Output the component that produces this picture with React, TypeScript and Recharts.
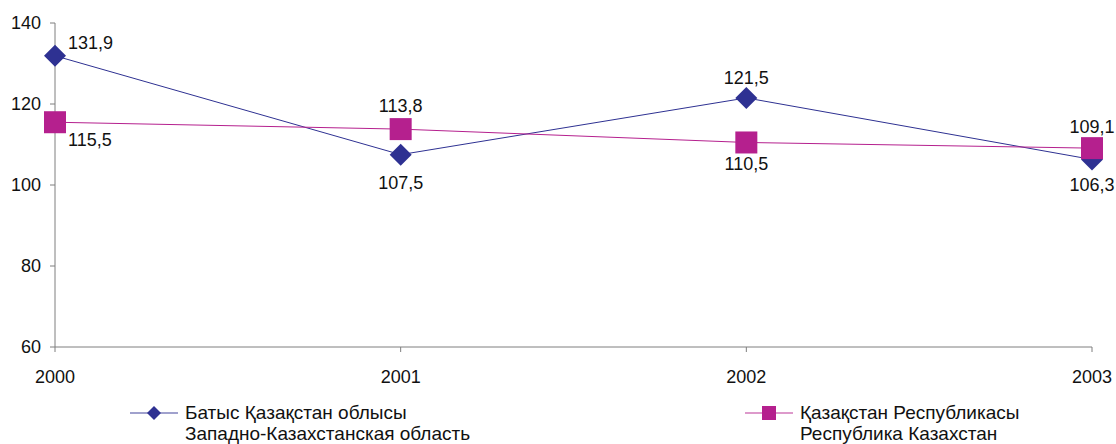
import React from "react";
import { LineChart, Line, XAxis, YAxis, Legend, LabelList } from "recharts";

const years = ["2000", "2001", "2002", "2003"];
const westKazakhstan = [131.9, 107.5, 121.5, 106.3];
const kazakhstan = [115.5, 113.8, 110.5, 109.1];
const yTicks = [60, 80, 100, 120, 140];

const seriesNames = [
  ["Батыс Қазақстан облысы", "Западно-Казахстанская область"],
  ["Қазақстан Республикасы", "Республика Казахстан"],
];

const NAVY = "#2E3192";
const MAGENTA = "#B5208E";
const AXIS = "#7f7f7f";
const FONT = "'Liberation Sans', Arial, sans-serif";
const FS = 18;

const data = years.map((year, i) => ({
  year,
  west: westKazakhstan[i],
  kz: kazakhstan[i],
}));

// label offsets per point (dx, dy, anchor)
const westLabelPos = [
  { dx: 13, dy: -13, anchor: "start" },
  { dx: 0, dy: 28, anchor: "middle" },
  { dx: 0, dy: -20, anchor: "middle" },
  { dx: 0, dy: 26, anchor: "middle" },
];
const kzLabelPos = [
  { dx: 13, dy: 18, anchor: "start" },
  { dx: 0, dy: -23, anchor: "middle" },
  { dx: 0, dy: 22, anchor: "middle" },
  { dx: 0, dy: -21, anchor: "middle" },
];

const fmt = (v: number) => v.toFixed(1).replace(".", ",");

const makeLabel = (pos: typeof westLabelPos) => (props: any) => {
  const { x, y, value, index } = props;
  const p = pos[index];
  return (
    <text
      x={x + p.dx}
      y={y + p.dy}
      textAnchor={p.anchor}
      dominantBaseline="central"
      fontSize={FS}
      fontFamily={FONT}
      fill="#111"
    >
      {fmt(value)}
    </text>
  );
};

const Diamond = (props: any) => {
  const { cx, cy } = props;
  const r = 11;
  return (
    <path
      d={`M${cx},${cy - r}L${cx + r},${cy}L${cx},${cy + r}L${cx - r},${cy}Z`}
      fill={NAVY}
    />
  );
};

const Square = (props: any) => {
  const { cx, cy } = props;
  const s = 11;
  return <rect x={cx - s} y={cy - s} width={s * 2} height={s * 2} fill={MAGENTA} />;
};

const LegendItem = ({ color, marker, lines, left }: any) => (
  <div style={{ position: "absolute", left, top: 0, display: "flex", alignItems: "flex-start" }}>
    <svg width={52} height={24}>
      <line x1={0} y1={12} x2={48} y2={12} stroke={color} strokeWidth={1.5} opacity={0.6} />
      {marker === "diamond" ? (
        <path d="M24,5L31,12L24,19L17,12Z" fill={color} />
      ) : (
        <rect x={17} y={5} width={14} height={14} fill={color} />
      )}
    </svg>
    <div style={{ fontFamily: FONT, fontSize: 19, lineHeight: "21px", color: "#111", marginLeft: 3, marginTop: 1 }}>
      <div>{lines[0]}</div>
      <div>{lines[1]}</div>
    </div>
  </div>
);

const renderLegend = () => (
  <div style={{ position: "relative", width: 1116, height: 48 }}>
    <LegendItem color={NAVY} marker="diamond" lines={seriesNames[0]} left={130} />
    <LegendItem color={MAGENTA} marker="square" lines={seriesNames[1]} left={745} />
  </div>
);

export default function App() {
  return (
    <div style={{ position: "absolute", left: 0, top: 0, width: 1116, height: 444, background: "#fff" }}>
      <LineChart
        width={1116}
        height={444}
        data={data}
        margin={{ top: 23, right: 24, left: 0, bottom: 9 }}
      >
        <XAxis
          dataKey="year"
          height={40}
          padding={{ left: 0, right: 0 }}
          stroke={AXIS}
          tickSize={5}
          tickMargin={18}
          tick={{ fontSize: FS, fontFamily: FONT, fill: "#111" }}
          interval={0}
        />
        <YAxis
          domain={[60, 140]}
          ticks={yTicks}
          width={55}
          stroke={AXIS}
          tickSize={5}
          tickMargin={9}
          tick={{ fontSize: FS, fontFamily: FONT, fill: "#111" }}
          allowDataOverflow
        />
        <Legend
          content={renderLegend}
          wrapperStyle={{ position: "absolute", left: 0, top: 401, width: 1116 }}
        />
        <Line
          dataKey="west"
          stroke={NAVY}
          strokeWidth={1}
          dot={<Diamond />}
          activeDot={false}
          isAnimationActive={false}
        >
          <LabelList dataKey="west" content={makeLabel(westLabelPos)} />
        </Line>
        <Line
          dataKey="kz"
          stroke={MAGENTA}
          strokeWidth={1}
          dot={<Square />}
          activeDot={false}
          isAnimationActive={false}
        >
          <LabelList dataKey="kz" content={makeLabel(kzLabelPos)} />
        </Line>
      </LineChart>
    </div>
  );
}
